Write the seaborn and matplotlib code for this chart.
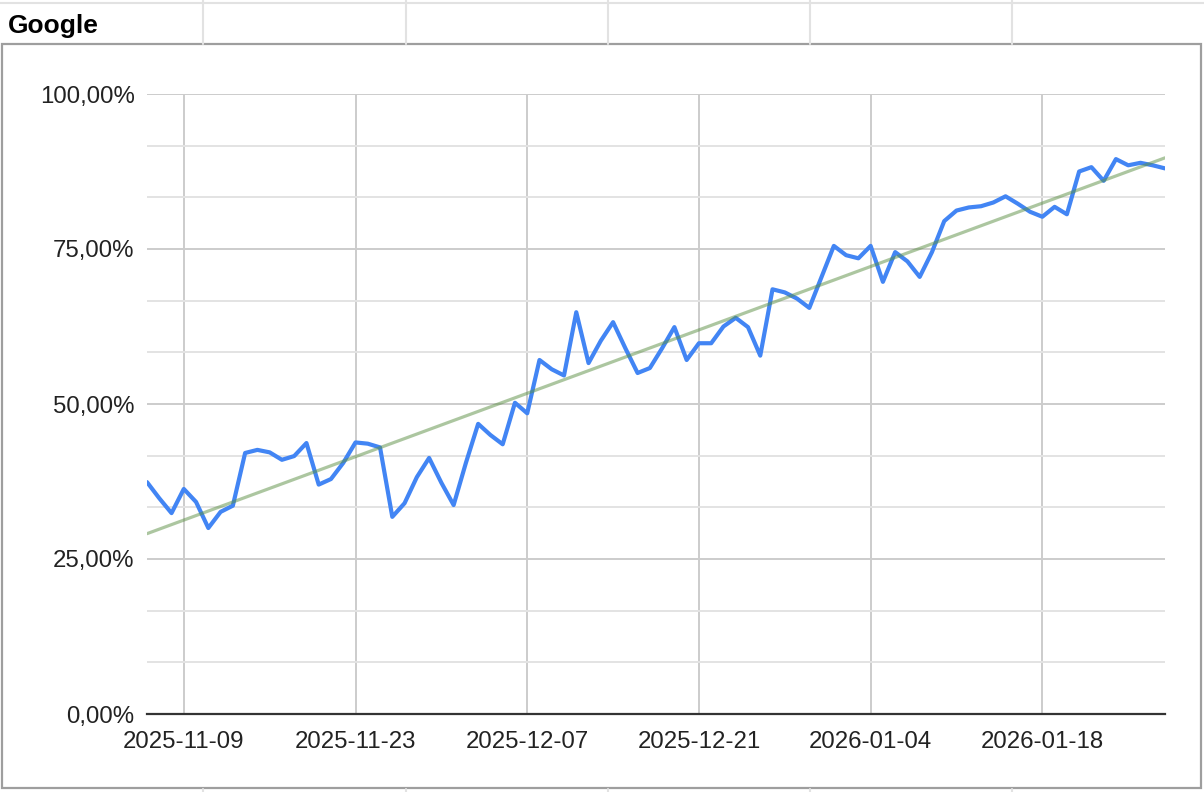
# built-in
import datetime as dt

# third-party
import pandas as pd
import matplotlib
matplotlib.use('Agg')
import matplotlib.pyplot as plt
import matplotlib.dates as mdates
from matplotlib.ticker import MultipleLocator, FuncFormatter, FixedLocator
from matplotlib.lines import Line2D
from matplotlib.patches import Rectangle
import seaborn as sns

# data (daily share, %)
dates = pd.date_range('2025-11-06', '2026-01-28', freq='D')
share = [
    37.4, 34.8, 32.4, 36.3, 34.2, 30.0, 32.6, 33.6, 42.1, 42.6,
    42.2, 41.0, 41.6, 43.7, 37.0, 37.9, 40.5, 43.8, 43.6, 43.0,
    31.8, 34.0, 38.2, 41.3, 37.3, 33.7, 40.5, 46.8, 45.0, 43.5,
    50.2, 48.5, 57.1, 55.6, 54.6, 64.8, 56.6, 60.2, 63.2, 59.0,
    55.0, 55.8, 59.0, 62.4, 57.1, 59.8, 59.8, 62.5, 63.9, 62.4,
    57.8, 68.5, 68.0, 67.0, 65.5, 70.5, 75.5, 74.0, 73.5, 75.5,
    69.7, 74.5, 73.0, 70.5, 74.5, 79.5, 81.2, 81.7, 81.9, 82.5,
    83.5, 82.3, 81.0, 80.2, 81.8, 80.6, 87.5, 88.2, 86.0, 89.5,
    88.5, 88.9, 88.5, 88.0,
]
tick_dates = ['2025-11-09', '2025-11-23', '2025-12-07',
              '2025-12-21', '2026-01-04', '2026-01-18']
title = 'Google'

df = pd.DataFrame({'date': dates, 'share': share})
df['num'] = mdates.date2num(df['date'])

sns.set_theme(style='white')
plt.rcParams['font.family'] = ['Liberation Sans', 'DejaVu Sans']

fig = plt.figure(figsize=(12.04, 7.92), dpi=100)
ax = fig.add_axes([147 / 1204, 1 - 714 / 792, (1165 - 147) / 1204, (714 - 94) / 792])

sns.lineplot(data=df, x='date', y='share', color='#4285f4', linewidth=3.0,
             solid_joinstyle='round', solid_capstyle='round', ax=ax, zorder=3)
# linear trendline, like the sheet's
sns.regplot(data=df, x='num', y='share', scatter=False, ci=None, ax=ax,
            line_kws={'color': '#5b8f43', 'alpha': 0.5, 'linewidth': 2.3, 'zorder': 4})

ax.set_xlim(dates[0], dates[-1])
ax.set_ylim(0, 100)
ax.set_xlabel('')
ax.set_ylabel('')

ax.xaxis.set_major_locator(FixedLocator(mdates.date2num(pd.to_datetime(tick_dates))))
ax.xaxis.set_major_formatter(mdates.DateFormatter('%Y-%m-%d'))
ax.yaxis.set_major_locator(MultipleLocator(25))
ax.yaxis.set_minor_locator(MultipleLocator(100 / 12))
ax.yaxis.set_major_formatter(FuncFormatter(lambda v, p: '{:.2f}%'.format(v).replace('.', ',')))

ax.grid(axis='x', which='major', color='#cccccc', linewidth=1.4)
ax.grid(axis='y', which='major', color='#cccccc', linewidth=1.4)
ax.grid(axis='y', which='minor', color='#e3e3e3', linewidth=1.4)
ax.set_axisbelow(True)

for side in ['left', 'top', 'right']:
    ax.spines[side].set_visible(False)
ax.spines['bottom'].set_color('#333333')
ax.spines['bottom'].set_linewidth(1.6)
ax.spines['bottom'].set_zorder(5)

ax.tick_params(axis='both', which='both', length=0, labelsize=17.3, colors='#222222')
ax.tick_params(axis='y', pad=9)
ax.tick_params(axis='x', pad=12)

# spreadsheet surroundings
W, H = 1204, 792
def fx(x):
    return x / W
def fy(y):
    return 1 - y / H

fig.add_artist(Line2D([0, 1], [fy(3), fy(3)], color='#e2e2e2', linewidth=1.5))
for cx in [203, 406, 608, 810, 1012]:
    fig.add_artist(Line2D([fx(cx), fx(cx)], [fy(0), fy(44)], color='#e2e2e2', linewidth=1.5))
    fig.add_artist(Line2D([fx(cx), fx(cx)], [fy(789), fy(792)], color='#e2e2e2', linewidth=1.5))
fig.add_artist(Rectangle((fx(2), fy(788)), fx(1201) - fx(2), fy(44) - fy(788),
                         fill=False, edgecolor='#9e9e9e', linewidth=1.6))
fig.text(fx(8), fy(26), title, fontsize=19, fontweight='bold', ha='left', va='center', color='#000000')

plt.savefig('out.png', dpi=100)
